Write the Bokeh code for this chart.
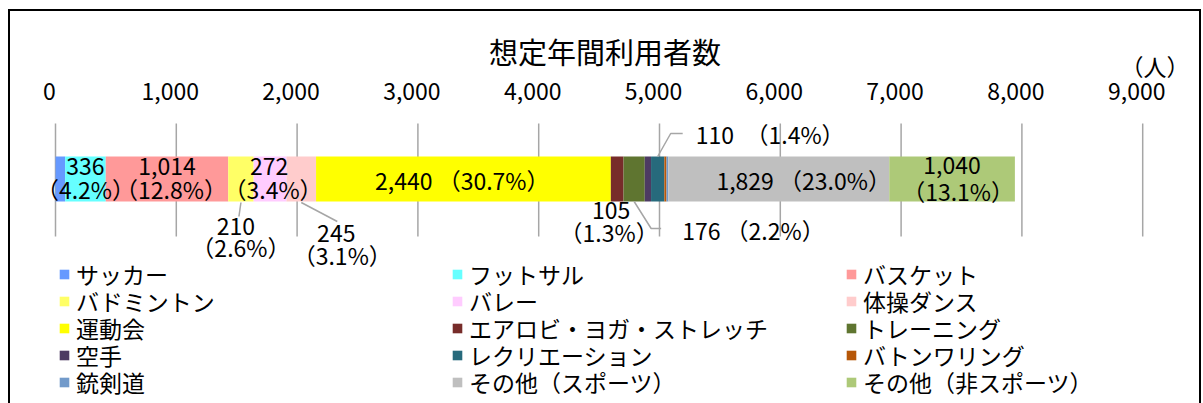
import numpy as np
from bokeh.plotting import figure
from bokeh.models import (Range1d, FixedTicker, Legend, LegendItem, ColumnDataSource,
                          LinearAxis, Title)
from bokeh.core.properties import value
from bokeh.embed import file_html
from bokeh.resources import INLINE

# ---------------- data ----------------
title_text = "想定年間利用者数"
unit_text = "（人）"
categories = ["サッカー", "フットサル", "バスケット", "バドミントン", "バレー", "体操ダンス",
              "運動会", "エアロビ・ヨガ・ストレッチ", "トレーニング", "空手", "レクリエーション",
              "バトンワリング", "銃剣道", "その他（スポーツ）", "その他（非スポーツ）"]
users = [80, 336, 1014, 210, 272, 245, 2440, 105, 176, 52, 110, 18, 15, 1829, 1040]
colors = ["#6699FF", "#66FFFF", "#FF9999", "#FFFF66", "#FFCCFF", "#FFCCCC", "#FFFF00",
          "#772C2A", "#5F7530", "#4D3B62", "#276A7C", "#B65708", "#729ACA", "#BFBFBF", "#ADC978"]
tick_values = [0, 1000, 2000, 3000, 4000, 5000, 6000, 7000, 8000, 9000]
tick_labels = ["0", "1,000", "2,000", "3,000", "4,000", "5,000", "6,000", "7,000", "8,000", "9,000"]

# ---------------- layout params ----------------
FONT = "Noto Sans CJK JP"
FRAME_W = 1189
FRAME_TOP = 118
FRAME_BOTTOM = 403
PX_PER_UNIT = 0.1208
X0_PX = 45
x_start = -X0_PX / PX_PER_UNIT
x_end = x_start + FRAME_W / PX_PER_UNIT
LABEL_SHIFT = 6 / PX_PER_UNIT
BAR_Y = 178.5
BAR_H = 45
GRID_Y0, GRID_Y1 = 123, 236

vals = np.array(users, dtype=float)
total = vals.sum()
ends = np.cumsum(vals)
starts = ends - vals
centers = starts + vals / 2
pcts = [f"{v / total * 100:.1f}" for v in vals]
nums = [f"{u:,}" for u in users]

p = figure(frame_width=FRAME_W, frame_height=FRAME_BOTTOM - FRAME_TOP,
           x_range=Range1d(x_start, x_end), y_range=Range1d(FRAME_BOTTOM, FRAME_TOP),
           x_axis_location=None, y_axis_location=None,
           output_backend="svg", toolbar_location=None,
           min_border_left=0, min_border_right=0, min_border_bottom=0, min_border_top=107,
           outline_line_color=None, title=title_text)
p.extra_x_ranges = {"lab": Range1d(x_start + LABEL_SHIFT, x_end + LABEL_SHIFT)}
p.styles = {"border-top": "2px solid #000", "border-left": "2px solid #000",
            "border-right": "2px solid #000", "margin-left": "8px", "margin-top": "9px"}
p.xgrid.visible = False
p.ygrid.visible = False

p.title.text_font = FONT
p.title.text_font_size = "29px"
p.title.text_font_style = "normal"
p.title.align = "center"
p.title.vertical_align = "middle"
p.title.standoff = -42
p.title.text_color = "#000000"

ax = LinearAxis(x_range_name="lab", ticker=FixedTicker(ticks=tick_values),
                major_label_overrides=dict(zip(tick_values, tick_labels)))
ax.axis_line_color = None
ax.major_tick_line_color = None
ax.minor_tick_line_color = None
ax.major_tick_out = 0
ax.major_tick_in = 0
ax.minor_tick_out = 0
ax.major_label_standoff = 19
ax.major_label_text_font = FONT
ax.major_label_text_font_size = "23px"
ax.major_label_text_color = "#000000"
p.add_layout(ax, "above")

unit = Title(text=unit_text, align="right", vertical_align="middle", text_font=FONT,
             text_font_size="23px", text_font_style="normal", text_color="#000000",
             offset=10, standoff=-8)
p.add_layout(unit, "above")

# grid lines
p.segment(x0=tick_values, y0=GRID_Y0, x1=tick_values, y1=GRID_Y1,
          line_color="#A6A6A6", line_width=1.5)

src = ColumnDataSource(dict(cat=categories, left=starts, right=ends,
                            y=[BAR_Y] * len(users), color=colors))
bars = p.hbar(y="y", left="left", right="right", height=BAR_H, fill_color="color",
              line_color=None, source=src)

# ---------------- data labels ----------------
# (category index, text kind, dx px, y px, align)
label_specs = [
    (1, "num", 0, 166, "center"), (1, "pct", 0, 188, "center"),
    (2, "num", 0, 166, "center"), (2, "pct", 4, 188, "center"),
    (3, "num", -5, 226, "center"), (3, "pct", 0, 246, "center"),
    (4, "num", -1, 166, "center"), (4, "pct", 3, 188, "center"),
    (5, "num", 35, 233, "center"), (5, "pct", 41, 254, "center"),
    (6, "one", 4, 179, "center"),
    (7, "num", -6, 210, "center"), (7, "pct", -8, 231, "center"),
    (8, "one", 48, 229, "left"),
    (10, "one_w", 38, 133, "left"),
    (13, "one", 30, 179, "center"),
    (14, "num", 0, 165, "center"), (14, "pct", 6, 190, "center"),
]
lx, ly, lt, la = [], [], [], []
for idx, kind, dx, y, align in label_specs:
    if kind == "num":
        t = nums[idx]
    elif kind == "pct":
        t = f"（{pcts[idx]}%）"
    elif kind == "one":
        t = f"{nums[idx]}   （{pcts[idx]}%）"
    else:
        t = f"{nums[idx]}\u3000（{pcts[idx]}%）"
    lx.append(centers[idx] + dx / PX_PER_UNIT)
    ly.append(y)
    lt.append(t)
    la.append(align)
lsrc = ColumnDataSource(dict(x=lx, y=ly, text=lt, align=la))
p.text(x="x", y="y", text="text", text_align="align", text_baseline="middle",
       text_font=value(FONT), text_font_size="23px", text_color="#000000", source=lsrc)

# leader lines: (category index, [(dx px, y px), ...])
leader_specs = [
    (3, [(0, 202), (-2, 216)]),
    (5, [(0, 202), (36, 221)]),
    (8, [(0, 201), (17, 228), (27, 228)]),
    (10, [(0, 156), (13, 133), (25, 133)]),
]
xs, ys = [], []
for idx, pts in leader_specs:
    xs.append([centers[idx] + d / PX_PER_UNIT for d, _ in pts])
    ys.append([yy for _, yy in pts])
p.multi_line(xs=xs, ys=ys, line_color="#A6A6A6", line_width=1.5)

# ---------------- legend: 3 columns x 5 rows ----------------
col_x = [48, 441, 835]
row0_y = 112
row_step = 27
for i, cat in enumerate(categories):
    r, c = divmod(i, 3)
    lg = Legend(items=[LegendItem(label=cat, renderers=[bars], index=i)],
                location=(col_x[c], row0_y - r * row_step),
                orientation="vertical", padding=0, margin=0, spacing=0,
                border_line_color=None, background_fill_alpha=0,
                glyph_width=12, glyph_height=12, label_standoff=6,
                label_text_font=FONT, label_text_font_size="23px",
                label_text_color="#000000")
    p.add_layout(lg, "center")

open("out.html", "w").write(file_html(p, INLINE))
